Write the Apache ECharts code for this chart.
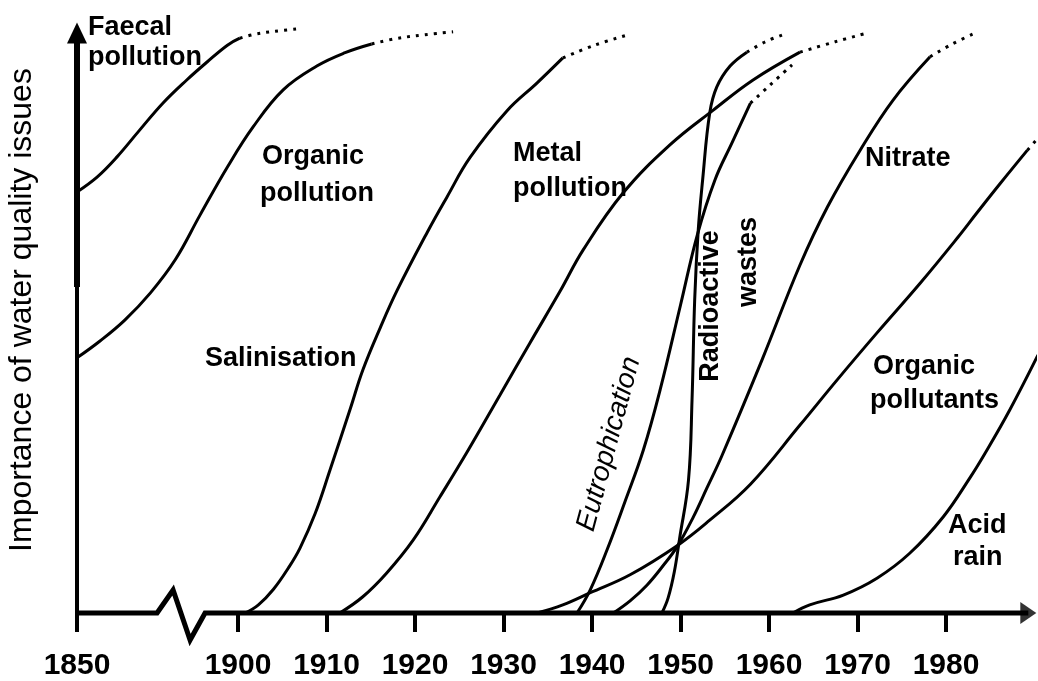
<!DOCTYPE html>
<html>
<head>
<meta charset="utf-8">
<title>Importance of water quality issues</title>
<script src="https://cdn.jsdelivr.net/npm/echarts@6/dist/echarts.min.js"></script>
<style>
  html, body { margin: 0; padding: 0; background: #fff; }
  #chart { width: 1038px; height: 681px; }
</style>
</head>
<body>
<div id="chart"></div>
<script>
// axis: 1850 sits left of the break, drawn where 1881.8 would be
const tickValues = [1881.8, 1900, 1910, 1920, 1930, 1940, 1950, 1960, 1970, 1980];
const tickLabels = ['1850', '1900', '1910', '1920', '1930', '1940', '1950', '1960', '1970', '1980'];

// baseline with the zigzag break, and the arrow head
const baseX = [1881.8, 1890.85, 1892.66, 1894.58, 1896.27, 1989.3];
const baseY = [0, 0, 3.97, -4.66, 0, 0];
const arrowX = [1989.3];
const arrowY = [0];
const yAxisBoldX = [1881.8, 1881.8];
const yAxisBoldY = [56.2, 100];

// curves (year, importance 0-100); *Tail = dotted continuation
const faecalX = [1881.8, 1884.1, 1886.3, 1888.9, 1891.5, 1894.2, 1896.5, 1898.8, 1900.2];
const faecalY = [72.6, 75.2, 78.6, 83.3, 87.9, 91.9, 95.0, 97.9, 99.1];
const faecalTailX = [1900.2, 1901.9, 1904.2, 1906.7];
const faecalTailY = [99.1, 99.8, 100.3, 100.7];

const organicX = [1881.8, 1884.4, 1887.2, 1890.1, 1892.9, 1895.7, 1898.8, 1901.7, 1905.1, 1908.9, 1912.1, 1915.1];
const organicY = [44.0, 46.9, 50.5, 55.2, 60.9, 68.6, 76.9, 83.8, 90.2, 94.3, 96.6, 98.1];
const organicTailX = [1915.1, 1917.7, 1921.1, 1924.3];
const organicTailY = [98.1, 99.0, 99.7, 100.2];

const salinX = [1900.8, 1902.3, 1904.0, 1905.7, 1907.0, 1908.7, 1910.4, 1912.7, 1914.1, 1916.1, 1918.0, 1921.4, 1923.6, 1926.2, 1930.4, 1933.8, 1936.7];
const salinY = [0, 1.4, 4.1, 7.8, 11.2, 17.1, 24.7, 35.3, 41.9, 49.3, 55.7, 65.7, 71.7, 78.5, 86.6, 91.4, 95.7];
const salinTailX = [1936.7, 1940.3, 1944.1];
const salinTailY = [95.7, 97.9, 99.7];

const metalX = [1911.5, 1914.1, 1916.8, 1919.8, 1922.8, 1925.9, 1929.6, 1933.0, 1936.4, 1939.0, 1943.5, 1948.8, 1953.7, 1958.2, 1963.5];
const metalY = [0, 2.8, 6.9, 12.6, 20.0, 27.8, 37.6, 46.6, 55.5, 62.6, 72.4, 80.7, 86.7, 91.9, 96.7];
const metalTailX = [1963.5, 1967.5, 1971.1];
const metalTailY = [96.7, 98.5, 100.0];

const eutroX = [1938.3, 1939.8, 1941.7, 1943.7, 1945.8, 1947.7, 1950.0, 1951.9, 1953.9, 1955.8, 1957.9];
const eutroY = [0, 4.0, 10.9, 19.1, 28.1, 38.5, 53.1, 65.2, 74.7, 81.0, 87.9];
const eutroTailX = [1957.9, 1960.1, 1962.6];
const eutroTailY = [87.9, 91.0, 94.5];

const radioX = [1947.9, 1948.6, 1949.3, 1949.9, 1950.9, 1951.3, 1951.6, 1952.0, 1952.5, 1953.3, 1954.1, 1955.6, 1957.5];
const radioY = [0, 2.6, 7.1, 12.9, 22.9, 36.7, 54.0, 66.0, 74.7, 86.2, 90.7, 94.3, 96.7];
const radioTailX = [1957.5, 1959.6, 1961.6];
const radioTailY = [96.7, 98.5, 99.7];

const nitrateX = [1942.4, 1944.3, 1946.2, 1948.0, 1949.6, 1951.4, 1953.0, 1954.7, 1959.2, 1963.5, 1966.6, 1970.3, 1974.0, 1978.2];
const nitrateY = [0, 2.1, 4.8, 8.1, 11.4, 16.4, 21.6, 27.2, 43.6, 60.0, 70.0, 79.8, 88.4, 95.9];
const nitrateTailX = [1978.2, 1980.7, 1983.3];
const nitrateTailY = [95.9, 98.1, 100.0];

const pollutantsX = [1933.8, 1936.7, 1939.8, 1944.3, 1949.7, 1953.3, 1957.9, 1963.5, 1967.7, 1972.2, 1977.1, 1981.3, 1983.5, 1986.1, 1989.2];
const pollutantsY = [0, 1.4, 3.5, 6.6, 11.7, 16.0, 22.2, 32.4, 40.2, 48.3, 56.9, 64.7, 69.0, 74.0, 79.8];
const pollutantsTailX = [1989.2, 1990.3];
const pollutantsTailY = [79.8, 81.7];

const acidX = [1962.7, 1964.6, 1968.4, 1972.2, 1975.9, 1979.7, 1982.7, 1984.4, 1987.2, 1990.4];
const acidY = [0, 1.4, 3.1, 6.0, 10.3, 16.6, 23.3, 27.5, 35.0, 44.5];

const ink = '#000';
const font = 'Liberation Sans, Arial, sans-serif';

function pairs(xs, ys) {
  return xs.map((x, i) => [x, ys[i]]);
}

function curve(name, xs, ys, dotted) {
  return {
    name: name,
    type: 'line',
    data: pairs(xs, ys),
    smooth: 0.4,
    symbol: 'none',
    clip: false,
    silent: true,
    lineStyle: { color: ink, width: 3, type: dotted ? [3, 6] : 'solid' }
  };
}

function label(text, x, y, opts) {
  opts = opts || {};
  return {
    type: 'text',
    x: x,
    y: y,
    rotation: opts.rotation || 0,
    style: {
      text: text,
      fill: ink,
      fontFamily: font,
      fontSize: opts.size || 27,
      fontWeight: opts.weight || 'bold',
      fontStyle: opts.style || 'normal',
      align: opts.align || 'left',
      verticalAlign: 'middle'
    }
  };
}

const chart = echarts.init(document.getElementById('chart'), null, { renderer: 'canvas' });

chart.setOption({
  animation: false,
  backgroundColor: '#fff',
  grid: { left: 77, right: 3.5, top: 33, bottom: 68 },
  xAxis: {
    type: 'value',
    min: 1881.8,
    max: 1990,
    splitLine: { show: false },
    axisLine: { show: false },
    axisTick: {
      show: true,
      customValues: tickValues,
      length: 19,
      lineStyle: { color: ink, width: 4 }
    },
    axisLabel: {
      customValues: tickValues,
      margin: 38,
      color: ink,
      fontFamily: font,
      fontSize: 30,
      fontWeight: 'bold',
      formatter: (v) => tickLabels[tickValues.indexOf(v)]
    }
  },
  yAxis: {
    type: 'value',
    min: 0,
    max: 100,
    splitLine: { show: false },
    axisTick: { show: false },
    axisLabel: { show: false },
    axisLine: {
      show: true,
      symbol: ['none', 'triangle'],
      symbolSize: [20, 21],
      lineStyle: { color: ink, width: 4 }
    }
  },
  series: [
    {
      type: 'line',
      data: pairs(baseX, baseY),
      symbol: 'none',
      clip: false,
      silent: true,
      lineStyle: { color: ink, width: 5, join: 'miter' }
    },
    {
      type: 'scatter',
      data: pairs(arrowX, arrowY),
      symbol: 'triangle',
      symbolRotate: -90,
      symbolSize: [22, 16],
      clip: false,
      silent: true,
      itemStyle: { color: ink }
    },
    {
      type: 'line',
      data: pairs(yAxisBoldX, yAxisBoldY),
      symbol: 'none',
      clip: false,
      silent: true,
      lineStyle: { color: ink, width: 6 }
    },
    curve('Faecal pollution', faecalX, faecalY, false),
    curve('Faecal pollution', faecalTailX, faecalTailY, true),
    curve('Organic pollution', organicX, organicY, false),
    curve('Organic pollution', organicTailX, organicTailY, true),
    curve('Salinisation', salinX, salinY, false),
    curve('Salinisation', salinTailX, salinTailY, true),
    curve('Metal pollution', metalX, metalY, false),
    curve('Metal pollution', metalTailX, metalTailY, true),
    curve('Eutrophication', eutroX, eutroY, false),
    curve('Eutrophication', eutroTailX, eutroTailY, true),
    curve('Radioactive wastes', radioX, radioY, false),
    curve('Radioactive wastes', radioTailX, radioTailY, true),
    curve('Nitrate', nitrateX, nitrateY, false),
    curve('Nitrate', nitrateTailX, nitrateTailY, true),
    curve('Organic pollutants', pollutantsX, pollutantsY, false),
    curve('Organic pollutants', pollutantsTailX, pollutantsTailY, true),
    curve('Acid rain', acidX, acidY, false)
  ],
  graphic: [
    label('Importance of water quality issues', 22, 310, { rotation: Math.PI / 2, size: 32, weight: 'normal', align: 'center' }),
    label('Faecal', 88, 28),
    label('pollution', 88, 58),
    label('Organic', 262, 157),
    label('pollution', 260, 194),
    label('Metal', 513, 154),
    label('pollution', 513, 189),
    label('Nitrate', 865, 159),
    label('Salinisation', 205, 359),
    label('Organic', 873, 367),
    label('pollutants', 870, 401),
    label('Acid', 948, 526),
    label('rain', 953, 558),
    label('Radioactive', 711, 306, { rotation: Math.PI / 2, align: 'center' }),
    label('wastes', 749, 262, { rotation: Math.PI / 2, align: 'center' }),
    label('Eutrophication', 609, 444, { rotation: 75 * Math.PI / 180, weight: 'normal', style: 'italic', size: 28, align: 'center' })
  ]
});
</script>
</body>
</html>
